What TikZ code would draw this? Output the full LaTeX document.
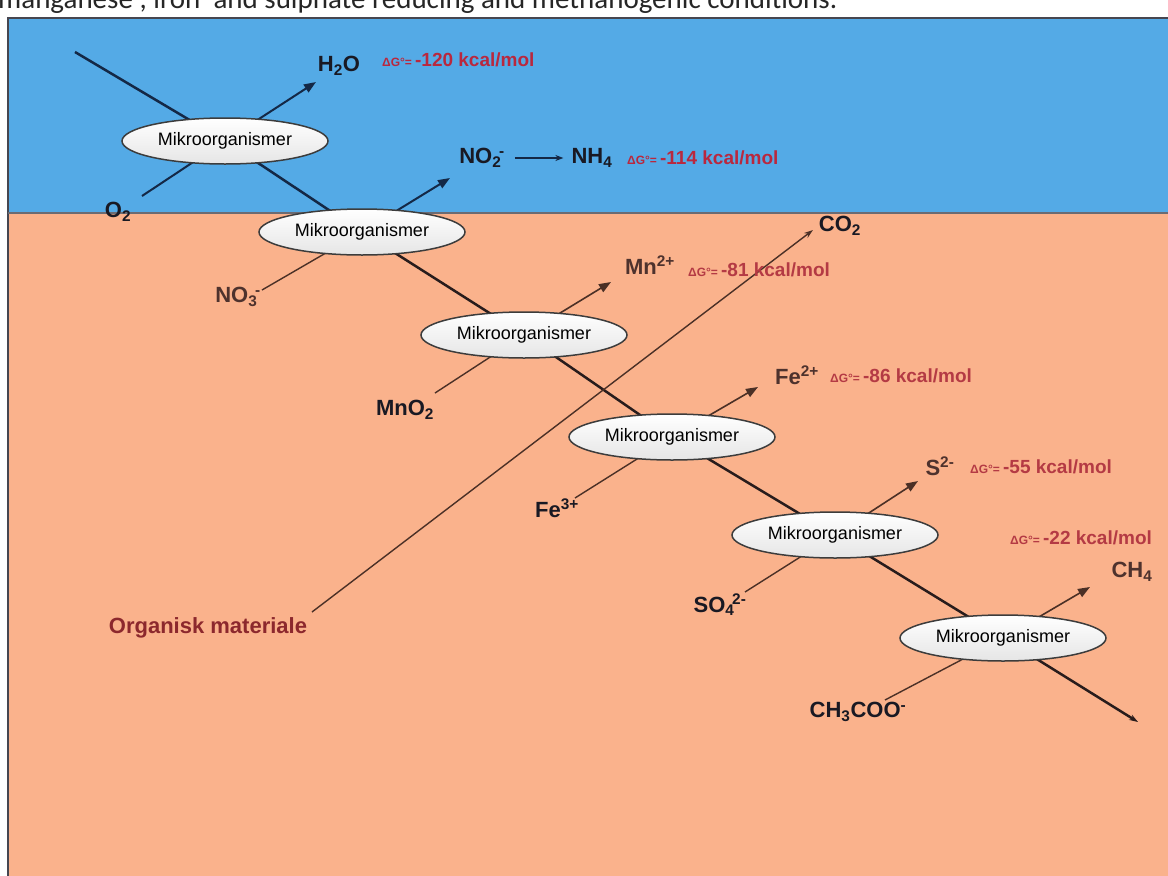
\documentclass[tikz,border=0pt]{standalone}
\usepackage{fontspec}
\setmainfont{Liberation Sans}
\newfontfamily\capfont{Carlito}
\usetikzlibrary{shapes.geometric,arrows.meta}
\pgfdeclarelayer{bg}
\pgfdeclarelayer{lines}
\pgfsetlayers{bg,lines,main}
\definecolor{skyblue}{RGB}{84,170,230}
\definecolor{salmon}{RGB}{250,178,140}
\definecolor{framec}{RGB}{70,70,80}
\definecolor{ellborder}{RGB}{60,60,60}
\definecolor{bluel}{RGB}{20,40,70}
\definecolor{mainc}{RGB}{40,28,28}
\definecolor{thinc}{RGB}{75,48,38}
\definecolor{textdark}{RGB}{25,25,35}
\definecolor{textbrown}{RGB}{78,50,45}
\definecolor{dgred}{RGB}{185,40,62}
\definecolor{dgred2}{RGB}{180,58,68}
\definecolor{orgred}{RGB}{140,40,45}
\newcommand\sbsp[2]{\textsubscript{#1}\kern-0.1em\textsuperscript{#2}}
\newcommand\dgval[1]{{\fontsize{12}{12}\selectfont ΔG°=}\,#1 kcal/mol}
\begin{document}
\begin{tikzpicture}[x=1pt,y=-1pt,
  mo/.style={ellipse, draw=ellborder, line width=1.5pt, top color=white, bottom color=gray!20,
    minimum width=206pt, minimum height=46pt, inner sep=0pt, font=\fontsize{18}{18}\selectfont},
  chem/.style={font=\fontsize{22}{22}\selectfont\bfseries, text=textdark, inner sep=0pt},
  chemb/.style={chem, text=textbrown},
  dg/.style={font=\fontsize{19}{19}\selectfont\bfseries, anchor=west, inner sep=0pt, text=dgred},
  dgs/.style={dg, text=dgred2},
  mainl/.style={line width=2.5pt, draw=mainc},
  bluemain/.style={line width=2.5pt, draw=bluel},
  inl/.style={line width=1.4pt, draw=thinc},
  outl/.style={line width=1.6pt, draw=thinc, -{Triangle[length=12pt,width=9pt]}},
  blueout/.style={line width=2pt, draw=bluel, -{Triangle[length=12pt,width=9pt]}}
]
\useasboundingbox (0,0) rectangle (1168,876);
\begin{pgfonlayer}{bg}
  \fill[white] (0,0) rectangle (1168,876);
  \fill[skyblue] (8,18) rectangle (1168,213);
  \fill[salmon] (8,213) rectangle (1168,876);
  \draw[framec, line width=1.2pt] (8,876) -- (8,18) -- (1168,18);
  \draw[framec!80, line width=1.2pt] (8,213) -- (1168,213);
\end{pgfonlayer}

% caption (cut at the top)
\node[anchor=base west, inner sep=0pt, font=\capfont\fontsize{29}{29}\selectfont, text=black!85] (cap) at (-2,8)
  {manganese\textsuperscript{-}, iron\textsuperscript{-} and sulphate reducing and methanogenic conditions.};

% microorganism ellipses
\node[mo] (E1) at (225,141) {Mikroorganismer};
\node[mo] (E2) at (362,232) {Mikroorganismer};
\node[mo] (E3) at (524,335) {Mikroorganismer};
\node[mo] (E4) at (672,437) {Mikroorganismer};
\node[mo] (E5) at (835,535) {Mikroorganismer};
\node[mo] (E6) at (1003,638) {Mikroorganismer};

% free ends
\coordinate (start) at (75,52);
\coordinate (end) at (1138,722);
\coordinate (tH2O) at (316,82);
\coordinate (tNO2) at (450,178);
\coordinate (tMn) at (611,282);
\coordinate (tFe) at (758,387);
\coordinate (tS) at (918,481);
\coordinate (tCH4) at (1090,587);
\coordinate (iO2) at (142,196);
\coordinate (iNO3) at (262,290);
\coordinate (iMnO2) at (435,393);
\coordinate (iFe3) at (575,498);
\coordinate (iSO4) at (745,592);
\coordinate (iAc) at (885,700);
\coordinate (orgEnd) at (312,612);
\coordinate (tCO2) at (813,230);

% labels
\node[chem] (H2O) at (339,66) {H\textsubscript{2}O};
\node[dg] (dg1) at (382,60) {\dgval{-120}};
\node[chem] (NO2) at (482,158) {NO\sbsp{2}{-}};
\node[chem] (NH4) at (592,158) {NH\textsubscript{4}};
\node[dg] (dg2) at (627,158) {\dgval{-114}};
\node[chem] (O2) at (118,212) {O\textsubscript{2}};
\node[chemb] (NO3) at (238,297) {NO\sbsp{3}{-}};
\node[chem] (CO2) at (840,226) {CO\textsubscript{2}};
\node[chemb] (Mn2) at (650,265) {Mn\textsuperscript{2+}};
\node[dgs] (dg3) at (688,270) {\dgval{-81}};
\node[chem] (MnO2) at (405,410) {MnO\textsubscript{2}};
\node[chemb] (Fe2) at (797,375) {Fe\textsuperscript{2+}};
\node[dgs] (dg4) at (830,376) {\dgval{-86}};
\node[chem] (Fe3) at (557,508) {Fe\textsuperscript{3+}};
\node[chemb] (S2) at (940,466) {S\textsuperscript{2-}};
\node[dgs] (dg5) at (970,467) {\dgval{-55}};
\node[dgs] (dg6) at (1010,538) {\dgval{-22}};
\node[chemb] (CH4) at (1132,572) {CH\textsubscript{4}};
\node[chem] (SO4) at (720,605) {SO\sbsp{4}{2-}};
\node[chem] (Ac) at (858,712) {CH\textsubscript{3}COO\textsuperscript{-}};
\node[chem, text=orgred, font=\fontsize{22}{22}\selectfont\bfseries] (Org) at (208,628) {Organisk materiale};

\begin{pgfonlayer}{lines}
  % main electron chain
  \draw[bluemain] (start) -- (E1.center) -- (E2.center);
  \draw[mainl, -{Stealth[length=9pt,width=6pt]}] (E2.center) -- (E3.center) -- (E4.center) -- (E5.center) -- (E6.center) -- (end);
  % inputs
  \draw[bluemain, line width=2pt] (iO2) -- (E1.center);
  \draw[inl] (iNO3) -- (E2.center);
  \draw[inl] (iMnO2) -- (E3.center);
  \draw[inl] (iFe3) -- (E4.center);
  \draw[inl] (iSO4) -- (E5.center);
  \draw[inl] (iAc) -- (E6.center);
  % outputs
  \draw[blueout] (E1.center) -- (tH2O);
  \draw[blueout] (E2.center) -- (tNO2);
  \draw[outl] (E3.center) -- (tMn);
  \draw[outl] (E4.center) -- (tFe);
  \draw[outl] (E5.center) -- (tS);
  \draw[outl] (E6.center) -- (tCH4);
  % organic matter to CO2
  \draw[inl, -{Stealth[length=9pt,width=6pt]}] (orgEnd) -- (tCO2);
\end{pgfonlayer}
\draw[bluel, line width=1.4pt, -{Stealth[length=8pt,width=6pt]}, shorten <=10pt, shorten >=8pt] (NO2.east) -- (NH4.west);
\end{tikzpicture}
\end{document}
